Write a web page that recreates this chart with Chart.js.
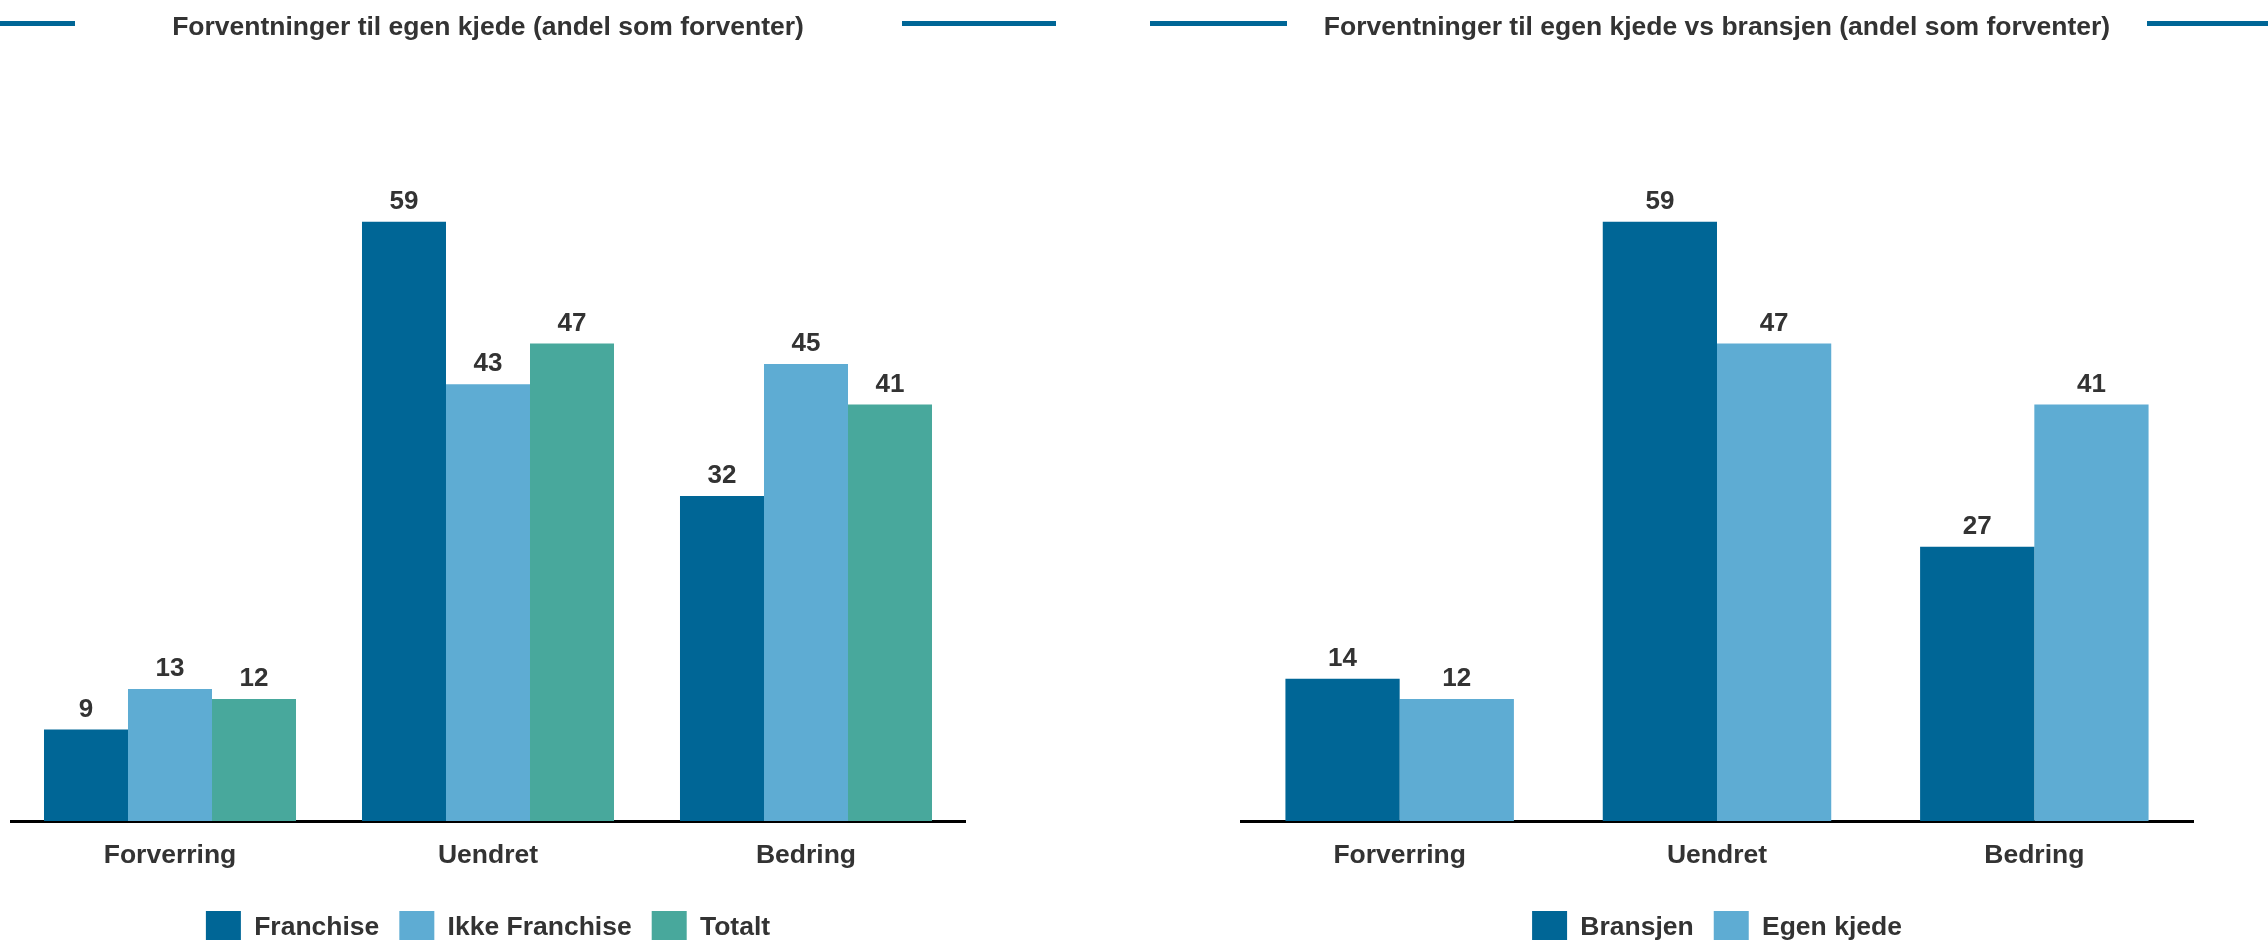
<!DOCTYPE html>
<html lang="no">
<head>
<meta charset="utf-8">
<title>Forventninger til egen kjede</title>
<script src="https://cdn.jsdelivr.net/npm/chart.js@4/dist/chart.umd.min.js"></script>
<style>
  html, body { margin: 0; padding: 0; background: #fff; overflow: hidden; }
  body { width: 2268px; height: 940px; position: relative; }
  .panel { position: absolute; top: 0; width: 1134px; height: 955px; }
  .rule  { position: absolute; top: 21px; height: 5px; background: #006696; }
</style>
</head>
<body>

<div class="rule" style="left:0;width:75px"></div>
<div class="rule" style="left:902px;width:154px"></div>
<div class="rule" style="left:1150px;width:137px"></div>
<div class="rule" style="left:2147px;width:121px"></div>

<div class="panel" style="left:0"><canvas id="chart-chain"></canvas></div>
<div class="panel" style="left:1134px"><canvas id="chart-industry"></canvas></div>

<script>
// ============================================================
// DATA — share (%) expecting each outcome
// ============================================================
const categories    = ['Forverring', 'Uendret', 'Bedring'];

const franchise     = [9, 59, 32];
const ikkeFranchise = [13, 43, 45];
const totalt        = [12, 47, 41];

const bransjen      = [14, 59, 27];
const egenKjede     = [12, 47, 41];

const COLORS = { dark: '#006696', light: '#5eacd3', teal: '#48a89c' };
const FONT   = "'Liberation Sans', Arial, Helvetica, sans-serif";
const TEXT   = '#333333';

// Value labels above each bar
const barValues = {
  id: 'barValues',
  afterDatasetsDraw(chart) {
    const { ctx } = chart;
    ctx.save();
    ctx.font = `700 26px ${FONT}`;
    ctx.fillStyle = TEXT;
    ctx.textAlign = 'center';
    ctx.textBaseline = 'alphabetic';
    chart.data.datasets.forEach((ds, i) => {
      chart.getDatasetMeta(i).data.forEach((bar, j) => {
        ctx.fillText(String(ds.data[j]), bar.x, bar.y - 13);
      });
    });
    ctx.restore();
  }
};

function makeOpts(title, padLeft, padRight, catPct) {
  const font = { family: FONT, size: 26.5, weight: '700' };
  return {
    responsive: true,
    maintainAspectRatio: false,
    animation: false,
    layout: { padding: { left: padLeft, right: padRight, top: 0, bottom: 0 } },
    datasets: { bar: { categoryPercentage: catPct, barPercentage: 1.0 } },
    plugins: {
      title: {
        display: true,
        text: title,
        color: TEXT,
        font,
        padding: { top: 12.1, bottom: 66.1 }
      },
      legend: {
        display: true,
        position: 'bottom',
        labels: { color: TEXT, font, boxWidth: 35, boxHeight: 34, padding: 20 }
      },
      tooltip: { enabled: false }
    },
    scales: {
      x: {
        grid: { display: false, drawTicks: false },
        border: { display: true, color: '#000000', width: 3 },
        ticks: { color: TEXT, padding: 19.1, font }
      },
      y: { display: false, min: 0, max: 70 }
    }
  };
}

// ── 1. Egen kjede: franchise vs ikke franchise ─────────────────
new Chart(document.getElementById('chart-chain').getContext('2d'), {
  type: 'bar',
  data: {
    labels: categories,
    datasets: [
      { label: 'Franchise',      data: franchise,     backgroundColor: COLORS.dark,  borderWidth: 0 },
      { label: 'Ikke Franchise', data: ikkeFranchise, backgroundColor: COLORS.light, borderWidth: 0 },
      { label: 'Totalt',         data: totalt,        backgroundColor: COLORS.teal,  borderWidth: 0 }
    ]
  },
  options: makeOpts('Forventninger til egen kjede (andel som forventer)', 11, 169, 0.7925),
  plugins: [barValues]
});

// ── 2. Egen kjede vs bransjen ──────────────────────────────────
new Chart(document.getElementById('chart-industry').getContext('2d'), {
  type: 'bar',
  data: {
    labels: categories,
    datasets: [
      { label: 'Bransjen',   data: bransjen,  backgroundColor: COLORS.dark,  borderWidth: 0 },
      { label: 'Egen kjede', data: egenKjede, backgroundColor: COLORS.light, borderWidth: 0 }
    ]
  },
  options: makeOpts('Forventninger til egen kjede vs bransjen (andel som forventer)', 107, 75, 0.72),
  plugins: [barValues]
});
</script>
</body>
</html>
